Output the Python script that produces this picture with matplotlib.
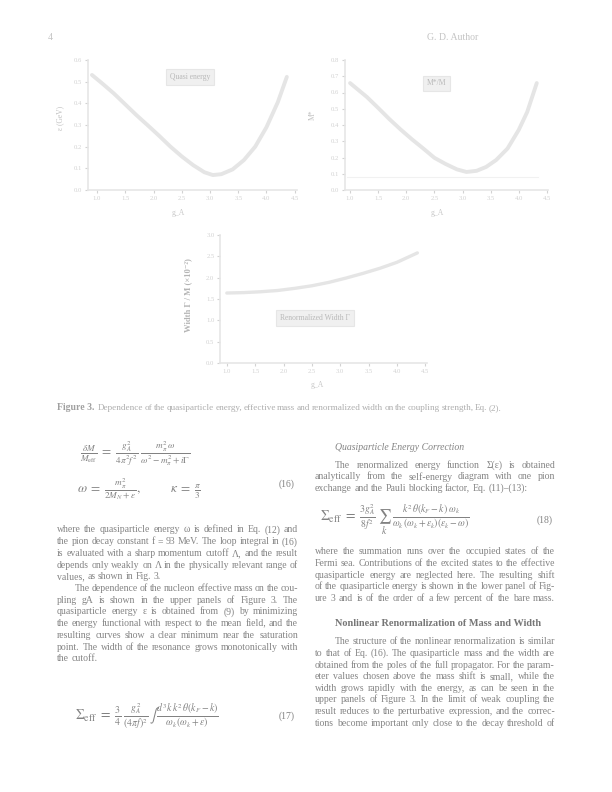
import matplotlib
matplotlib.use("Agg")
import matplotlib.pyplot as plt

plt.rcParams["mathtext.fontset"] = "stix"

# ---------------- data ----------------
x_ticks = [1.0, 1.5, 2.0, 2.5, 3.0, 3.5, 4.0, 4.5]
x_tick_labels = ["1.0", "1.5", "2.0", "2.5", "3.0", "3.5", "4.0", "4.5"]

# top-left panel: quasiparticle energy
energy_x = [0.91, 1.10, 1.30, 1.50, 1.70, 1.90, 2.10, 2.30, 2.50, 2.70,
            2.90, 3.05, 3.20, 3.40, 3.60, 3.80, 4.00, 4.20, 4.36]
energy_y = [0.531, 0.490, 0.445, 0.395, 0.345, 0.298, 0.250, 0.200, 0.155, 0.115,
            0.082, 0.069, 0.073, 0.095, 0.138, 0.200, 0.290, 0.405, 0.522]
energy_yticks = [0.0, 0.1, 0.2, 0.3, 0.4, 0.5, 0.6]

# top-right panel: effective mass
mass_x = [1.00, 1.15, 1.30, 1.50, 1.70, 1.90, 2.10, 2.30, 2.50, 2.70,
          2.90, 3.07, 3.25, 3.42, 3.60, 3.80, 4.00, 4.15, 4.32]
mass_y = [0.658, 0.615, 0.572, 0.505, 0.436, 0.372, 0.312, 0.256, 0.198, 0.160,
          0.127, 0.111, 0.118, 0.142, 0.185, 0.255, 0.370, 0.480, 0.658]
mass_ref_x = [0.95, 4.35]
mass_ref_y = [0.08, 0.08]
mass_yticks = [0.0, 0.1, 0.2, 0.3, 0.4, 0.5, 0.6, 0.7, 0.8]

# bottom panel: renormalized width
width_x = [1.0, 1.3, 1.6, 1.9, 2.2, 2.5, 2.8, 3.1, 3.4, 3.7, 4.0, 4.36]
width_y = [1.64, 1.65, 1.67, 1.70, 1.75, 1.81, 1.89, 1.99, 2.10, 2.22, 2.36, 2.58]
width_yticks = [0.0, 0.5, 1.0, 1.5, 2.0, 2.5, 3.0]

panel_titles = ["Quasi energy", "M*/M", "Renormalized Width Γ"]
x_labels = ["g_A", "g_A", "g_A"]
y_labels = ["ε (GeV)", "M*", "Width Γ / M (×10⁻²)"]

W, H = 612, 792
fig = plt.figure(figsize=(W / 100, H / 100), dpi=100)
fig.patch.set_facecolor("white")

SERIF = ["Liberation Serif", "DejaVu Serif"]
LINE_C = "#e5e5e5"
SPINE_C = "#e6e6e6"
TICK_C = "#d2d2d2"
TEXT_C = "#848484"


def fx(px):
    return px / W


def fy(py):
    return 1 - py / H


def make_ax(left, top, right, bottom):
    ax = fig.add_axes([fx(left), fy(bottom), fx(right - left), (bottom - top) / H])
    for s in ("top", "right"):
        ax.spines[s].set_visible(False)
    for s in ("left", "bottom"):
        ax.spines[s].set_color(SPINE_C)
        ax.spines[s].set_linewidth(1.2)
    ax.tick_params(colors=TICK_C, labelsize=4.8, length=2, width=0.8, pad=2)
    return ax


def box_label(ax, x, y, text):
    ax.text(x, y, text, transform=ax.transAxes, ha="center", va="center",
            fontsize=5.5, color="#b9b9b9", family=SERIF,
            bbox=dict(boxstyle="square,pad=0.5", fc="#f0f0f0", ec="#e6e6e6", lw=0.8))


# ---- top-left ----
ax1 = make_ax(88, 60, 297, 190)
ax1.plot(energy_x, energy_y, color=LINE_C, lw=2.8, solid_capstyle="round",
         solid_joinstyle="round")
ax1.set_xlim(0.84, 4.54)
ax1.set_ylim(0.0, 0.6)
ax1.set_xticks(x_ticks)
ax1.set_xticklabels(x_tick_labels, family=SERIF)
ax1.set_yticks(energy_yticks)
ax1.set_yticklabels([f"{v:.1f}" for v in energy_yticks], family=SERIF)
box_label(ax1, 0.49, 0.87, panel_titles[0])
fig.text(fx(178), fy(213), x_labels[0], ha="center", va="center", fontsize=5.5,
         color="#c8c8c8", family=SERIF)
fig.text(fx(60), fy(118), y_labels[0], ha="center", va="center", fontsize=5.5,
         color="#c0c0c0", family=SERIF, rotation=90)

# ---- top-right ----
ax2 = make_ax(345, 60, 548, 190)
ax2.plot(mass_ref_x, mass_ref_y, color="#f1f1f1", lw=0.8)
ax2.plot(mass_x, mass_y, color=LINE_C, lw=2.8, solid_capstyle="round",
         solid_joinstyle="round")
ax2.set_xlim(0.91, 4.52)
ax2.set_ylim(0.0, 0.8)
ax2.set_xticks(x_ticks)
ax2.set_xticklabels(x_tick_labels, family=SERIF)
ax2.set_yticks(mass_yticks)
ax2.set_yticklabels([f"{v:.1f}" for v in mass_yticks], family=SERIF)
box_label(ax2, 0.45, 0.82, panel_titles[1])
fig.text(fx(437), fy(213), x_labels[1], ha="center", va="center", fontsize=5.5,
         color="#c8c8c8", family=SERIF)
fig.text(fx(313), fy(115), y_labels[1], ha="center", va="center", fontsize=5.5,
         color="#c0c0c0", family=SERIF, rotation=90)

# ---- bottom ----
ax3 = make_ax(220, 235, 427, 363)
ax3.plot(width_x, width_y, color=LINE_C, lw=2.4, solid_capstyle="round",
         solid_joinstyle="round")
ax3.set_xlim(0.88, 4.53)
ax3.set_ylim(0.0, 3.0)
ax3.set_xticks(x_ticks)
ax3.set_xticklabels(x_tick_labels, family=SERIF)
ax3.set_yticks(width_yticks)
ax3.set_yticklabels([f"{v:.1f}" for v in width_yticks], family=SERIF)
box_label(ax3, 0.46, 0.35, panel_titles[2])
fig.text(fx(317), fy(385), x_labels[2], ha="center", va="center", fontsize=5.5,
         color="#c8c8c8", family=SERIF)
fig.text(fx(188), fy(295), y_labels[2], ha="center", va="center", fontsize=6.2,
         color="#b4b4b4", family=SERIF, rotation=90, weight="bold")

# ---------------- page text ----------------
renderer = fig.canvas.get_renderer()


def jline(text, x0, x1, y, size=7.0, color=TEXT_C, justify=True, **kw):
    words = text.split()
    objs = []
    widths = []
    for w in words:
        t = fig.text(0, fy(y), w, fontsize=size, color=color, family=SERIF,
                     va="center", ha="left", **kw)
        bb = t.get_window_extent(renderer=renderer)
        objs.append(t)
        widths.append(bb.width)
    space = size * 100 / 72 * 0.25
    total = sum(widths)
    if justify and len(words) > 1:
        gap = (x1 - x0 - total) / (len(words) - 1)
        gap = max(gap, space * 0.6)
    else:
        gap = space
    x = x0
    for t, w in zip(objs, widths):
        t.set_x(fx(x))
        x += w + gap


def paragraph(lines, x0, x1, y0, dy, indent_first=False, indent=18, size=7.0,
              color=TEXT_C, justify_last=False):
    for i, ln in enumerate(lines):
        xs = x0 + (indent if (i == 0 and indent_first) else 0)
        last = i == len(lines) - 1
        jline(ln, xs, x1, y0 + i * dy, size=size, color=color,
              justify=(not last) or justify_last)


# header
fig.text(fx(50), fy(37), "4", fontsize=7, color="#c4c4c4", family=SERIF,
         ha="center", va="center")
fig.text(fx(453), fy(37), "G. D. Author", fontsize=7, color="#c4c4c4",
         family=SERIF, ha="center", va="center")

# caption
fig.text(fx(57), fy(408), "Figure 3.", fontsize=7, color="#a0a0a0",
         family=SERIF, ha="left", va="center", weight="bold")
jline("Dependence of the quasiparticle energy, effective mass and renormalized "
      "width on the coupling strength, Eq. (2).",
      98, 500, 408, size=6.6, color="#adadad")

# left column equations
EQ_C = "#828282"
EQ_S = 9.5
fig.text(fx(80), fy(454),
         r"$\frac{\delta M}{M_{\rm eff}}\;=\;\frac{g_A^2}{4\pi^2 f^2}\;\frac{m_\pi^2\,\omega}{\omega^2-m_\pi^2+i\Gamma}$",
         fontsize=EQ_S, color=EQ_C, ha="left", va="center")
fig.text(fx(77), fy(489),
         r"$\omega\;=\;\frac{m_\pi^2}{2M_N+\epsilon},\qquad\quad \kappa\;=\;\frac{\pi}{3}$",
         fontsize=EQ_S, color=EQ_C, ha="left", va="center")
fig.text(fx(287), fy(484), "(16)", fontsize=7, color=TEXT_C, family=SERIF,
         ha="center", va="center")

left_par1 = [
    "where the quasiparticle energy ω is defined in Eq. (12) and",
    "the pion decay constant f = 93 MeV. The loop integral in (16)",
    "is evaluated with a sharp momentum cutoff Λ, and the result",
    "depends only weakly on Λ in the physically relevant range of",
    "values, as shown in Fig. 3.",
]
paragraph(left_par1, 57, 298, 530, 11.7)
left_par2 = [
    "The dependence of the nucleon effective mass on the cou-",
    "pling gA is shown in the upper panels of Figure 3. The",
    "quasiparticle energy ε is obtained from (9) by minimizing",
    "the energy functional with respect to the mean field, and the",
    "resulting curves show a clear minimum near the saturation",
    "point. The width of the resonance grows monotonically with",
    "the cutoff.",
]
paragraph(left_par2, 57, 298, 530 + 5 * 11.7, 11.7, indent_first=True)

fig.text(fx(75), fy(716),
         r"$\Sigma_{\rm eff}\;=\;\frac{3}{4}\;\frac{g_A^2}{(4\pi f)^2}\,\int\frac{d^3k\;k^2\,\theta(k_F-k)}{\omega_k\,(\omega_k+\epsilon)}$",
         fontsize=EQ_S + 0.5, color=EQ_C, ha="left", va="center")
fig.text(fx(287), fy(716), "(17)", fontsize=7, color=TEXT_C, family=SERIF,
         ha="center", va="center")

# right column
fig.text(fx(335), fy(448), "Quasiparticle Energy Correction", fontsize=7,
         color=TEXT_C, family=SERIF, style="italic", ha="left", va="center")
right_par1 = [
    "The renormalized energy function Σ(ε) is obtained",
    "analytically from the self-energy diagram with one pion",
    "exchange and the Pauli blocking factor, Eq. (11)–(13):",
]
paragraph(right_par1, 315, 555, 465, 11.7, indent_first=True, indent=20)

fig.text(fx(320), fy(520),
         r"$\Sigma_{\rm eff}\;=\;\frac{3g_A^2}{8f^2}\;\sum_{k}\;\frac{k^2\,\theta(k_F-k)\;\omega_k}{\omega_k\,(\omega_k+\epsilon_k)(\epsilon_k-\omega)}$",
         fontsize=EQ_S + 0.5, color=EQ_C, ha="left", va="center")
fig.text(fx(545), fy(520), "(18)", fontsize=7, color=TEXT_C, family=SERIF,
         ha="center", va="center")

right_par2 = [
    "where the summation runs over the occupied states of the",
    "Fermi sea. Contributions of the excited states to the effective",
    "quasiparticle energy are neglected here. The resulting shift",
    "of the quasiparticle energy is shown in the lower panel of Fig-",
    "ure 3 and is of the order of a few percent of the bare mass.",
]
paragraph(right_par2, 315, 555, 552, 11.6, justify_last=True)

fig.text(fx(335), fy(623), "Nonlinear Renormalization of Mass and Width",
         fontsize=7.4, color="#767676", family=SERIF, weight="bold",
         ha="left", va="center")
right_par3 = [
    "The structure of the nonlinear renormalization is similar",
    "to that of Eq. (16). The quasiparticle mass and the width are",
    "obtained from the poles of the full propagator. For the param-",
    "eter values chosen above the mass shift is small, while the",
    "width grows rapidly with the energy, as can be seen in the",
    "upper panels of Figure 3. In the limit of weak coupling the",
    "result reduces to the perturbative expression, and the correc-",
    "tions become important only close to the decay threshold of",
]
paragraph(right_par3, 315, 555, 642, 11.6, indent_first=True, indent=20,
          justify_last=True)

fig.savefig("out.png", dpi=100, facecolor="white")
